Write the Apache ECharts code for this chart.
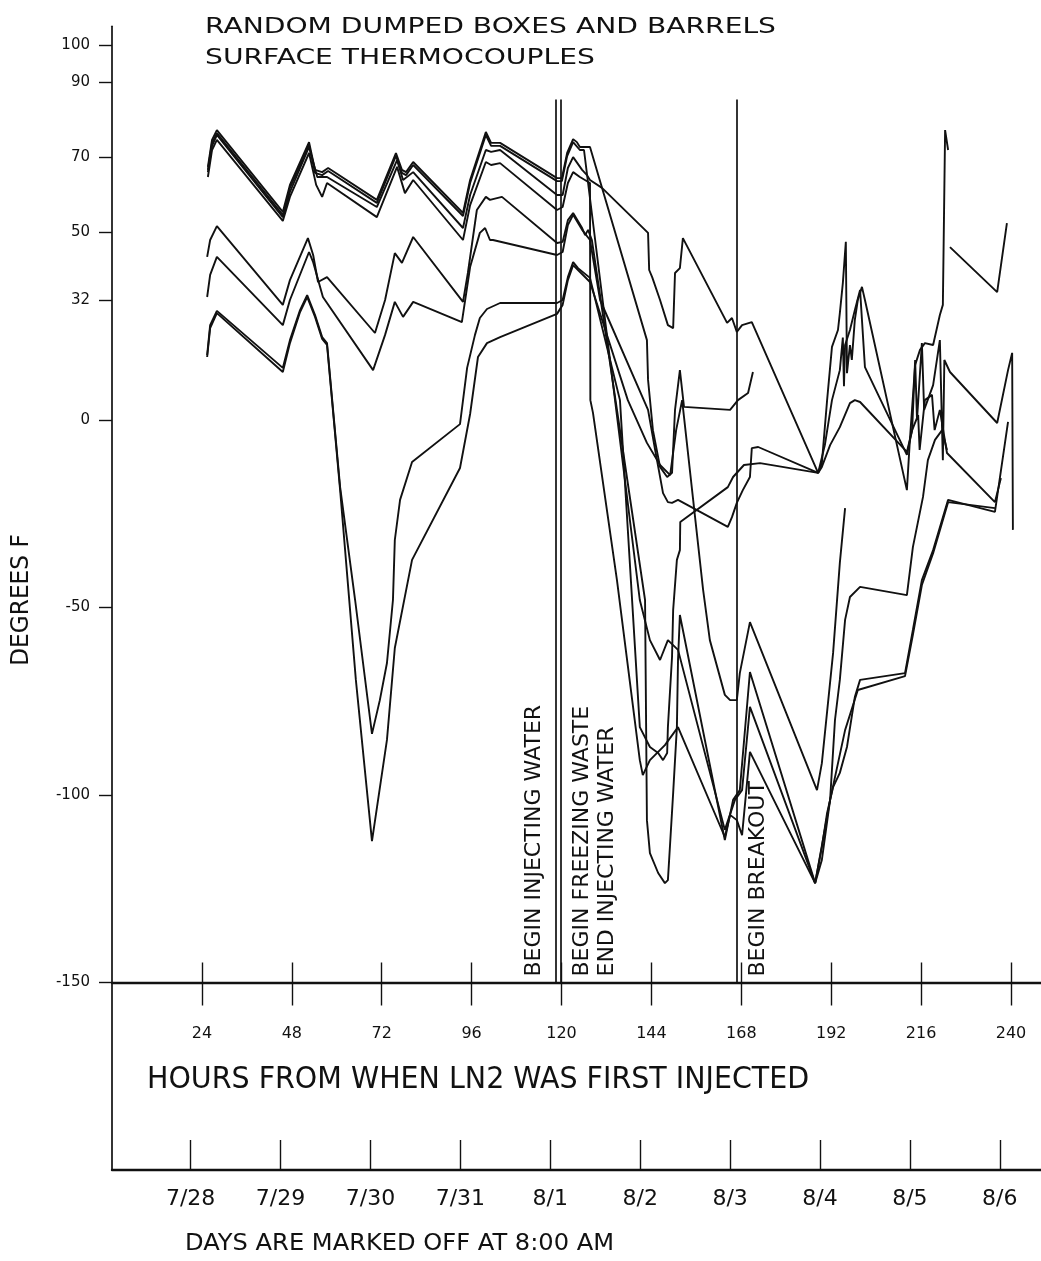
<!DOCTYPE html>
<html>
<head>
<meta charset="utf-8">
<script src="https://cdn.jsdelivr.net/npm/echarts@6/dist/echarts.min.js"></script>
<style>
html,body{margin:0;padding:0;background:#fff;}
#chart{width:1041px;height:1261px;}
</style>
</head>
<body>
<div id="chart"></div>
<script>
// ---- axis ticks / labels ----
var hourTicks = [24, 48, 72, 96, 120, 144, 168, 192, 216, 240];
var dayTickHours = [21, 45, 69, 93, 117, 141, 165, 189, 213, 237];
var dayLabels = ['7/28', '7/29', '7/30', '7/31', '8/1', '8/2', '8/3', '8/4', '8/5', '8/6'];
var yTickValues = [-150, -100, -50, 0, 32, 50, 70, 90, 100];

// ---- event markers (hours) ----
var eventHours = [118.5, 119.8, 166.9];
var eventLabels = ['BEGIN INJECTING WATER', 'BEGIN FREEZING WASTE\nEND INJECTING WATER', 'BEGIN BREAKOUT'];

// ---- thermocouple traces: [hours, degrees F] ----
var tcA = [[25.6,67.5],[26.7,74.7],[28.0,77.3],[45.6,55.5],[47.5,62.7],[52.6,74.1],[54.2,66.7],[56.1,66.1],[57.7,67.2],[70.7,58.7],[75.8,71.2],[77.4,66.7],[78.5,66.1],[80.4,68.8],[93.7,55.2],[95.6,64.0],[99.8,76.8],[101.2,73.9],[103.6,73.9],[118.8,64.5],[120.1,64.5],[121.5,71.2],[123.1,74.9],[124.1,74.1],[124.9,72.8],[127.6,72.8],[142.8,21.3],[143.1,10.7],[144.4,-2.7],[146.3,-12.5],[148.2,-15.2],[149.5,-14.1],[150.3,2.7],[151.6,13.3],[152.7,3.5],[165.0,2.7],[167.1,5.3],[169.8,7.2],[171.1,12.8],[197.0,null],[223.7,46.1],[236.3,34.1],[238.9,52.5]];
var tcB = [[25.6,66.1],[26.7,73.1],[28.0,76.0],[45.6,54.1],[47.5,60.8],[52.6,72.8],[54.8,64.8],[57.4,64.8],[70.7,56.8],[76.1,69.3],[77.7,64.0],[80.4,66.1],[93.7,51.2],[95.6,60.0],[99.8,72.0],[101.2,71.5],[103.6,72.0],[118.8,60.0],[120.3,60.0],[121.7,67.2],[123.1,70.1],[125.5,66.7],[126.8,65.3],[127.6,64.0],[130.8,61.9],[143.1,49.9],[143.4,40.0],[144.2,38.1],[146.3,32.0],[148.4,25.3],[149.8,24.5],[150.3,39.2],[151.6,40.5],[152.4,48.5],[164.2,25.9],[165.5,27.2],[166.8,23.5],[168.2,25.3],[170.8,26.1],[188.5,-14.1],[189.5,-11.5],[190.9,5.3],[192.2,19.5],[193.8,24.0],[194.3,28.5],[195.1,36.5],[195.9,47.5],[196.2,12.5],[197.0,20.0],[197.5,16.0],[198.3,26.7],[199.1,32.0],[200.2,35.5],[201.0,32.0],[212.2,-18.7],[213.0,-5.3],[214.4,14.7],[215.7,18.7],[217.0,20.5],[219.2,20.0],[221.0,28.0],[221.8,30.7],[222.4,77.3],[223.2,72.0]];
var tcC = [[25.6,64.8],[26.7,72.0],[28.0,74.7],[45.6,53.1],[47.5,59.5],[52.6,71.2],[54.5,62.7],[56.1,59.5],[57.4,63.2],[70.7,54.1],[76.1,67.5],[78.2,60.5],[80.4,64.0],[93.7,48.0],[95.6,57.3],[99.8,68.8],[101.2,68.0],[103.6,68.5],[118.8,56.0],[120.3,56.8],[121.7,63.2],[123.1,66.1],[124.9,64.8],[127.6,63.2],[127.7,5.3],[128.4,1.9],[134.8,-42.7],[140.9,-90.7],[141.7,-94.7],[143.6,-90.7],[147.6,-86.7],[151.1,-81.9],[163.6,-111.2],[165.0,-105.3],[166.8,-106.7],[168.2,-110.7],[170.3,-88.5],[187.7,-123.5],[189.5,-113.9],[190.9,-104.8],[192.5,-97.9],[194.3,-94.1],[196.2,-87.2],[198.3,-73.9],[199.7,-69.3],[211.7,-67.5],[213.8,-56.0],[216.2,-42.7],[219.2,-34.7],[223.2,-21.3],[235.7,-24.5],[239.2,-0.5]];
var tcD = [[25.4,43.5],[26.2,48.0],[28.0,51.7],[45.6,30.7],[47.5,37.3],[52.3,48.5],[53.7,44.0],[55.0,36.8],[57.4,38.1],[70.2,23.2],[72.9,32.0],[75.5,44.5],[77.4,41.9],[80.4,48.8],[93.7,31.5],[95.0,39.2],[97.4,56.0],[99.8,59.5],[100.9,58.7],[104.1,59.5],[118.8,47.2],[120.3,47.5],[121.7,53.3],[123.1,55.2],[125.5,51.2],[126.3,49.3],[127.1,50.7],[128.1,48.0],[142.3,-48.0],[142.8,-106.7],[143.6,-115.5],[145.8,-120.8],[147.6,-123.5],[148.4,-122.7],[149.0,-112.8],[149.8,-99.5],[150.8,-81.9],[151.1,-64.0],[151.6,-52.0],[163.6,-112.0],[165.8,-101.3],[167.6,-98.7],[170.3,-67.2],[187.7,-123.5],[189.5,-117.3],[191.7,-101.3],[193.0,-80.0],[194.3,-69.3],[195.7,-53.3],[197.0,-47.2],[199.7,-44.5],[212.2,-46.7],[213.8,-33.9],[216.5,-20.5],[217.8,-10.7],[219.7,-5.3],[221.6,-2.7],[222.9,-8.0]];
var tcE = [[25.4,32.8],[26.2,38.7],[28.0,43.5],[45.6,25.3],[47.5,32.0],[52.6,44.8],[53.7,42.1],[56.3,32.8],[69.7,13.3],[72.9,22.7],[75.5,31.5],[77.7,27.5],[80.4,31.5],[93.4,26.1],[95.6,40.8],[98.2,49.9],[99.6,51.2],[100.9,48.0],[101.7,48.0],[118.8,44.0],[120.3,44.8],[121.7,52.0],[123.1,54.7],[125.5,50.7],[127.6,48.0],[130.3,32.0],[143.1,2.7],[145.0,-8.0],[147.1,-19.5],[148.4,-21.9],[149.5,-22.1],[151.1,-21.3],[164.4,-28.5],[165.5,-25.9],[166.8,-22.1],[168.4,-18.7],[170.3,-15.2],[170.8,-7.5],[172.5,-7.2],[188.5,-14.1],[189.5,-12.5],[191.7,-6.7],[194.3,-1.9],[197.0,4.5],[198.3,5.3],[199.7,4.8],[212.2,-8.5],[213.6,-2.7],[214.4,16.0],[214.9,0.0],[216.2,20.5],[216.8,2.7],[219.2,9.3],[221.0,21.3],[221.8,-10.7],[222.2,16.0],[223.7,12.8],[236.3,-0.8],[239.2,13.3],[240.3,17.9],[240.5,-29.3]];
var tcF = [[25.4,17.3],[26.2,25.3],[28.0,29.1],[45.6,13.9],[47.5,21.3],[50.2,29.3],[52.1,33.3],[54.2,28.0],[56.1,22.1],[57.4,20.5],[60.9,-17.9],[64.9,-48.0],[69.4,-83.7],[71.5,-74.7],[73.4,-64.8],[75.0,-48.0],[75.5,-32.0],[76.9,-21.3],[80.1,-11.2],[92.9,-1.1],[94.8,13.9],[96.9,22.7],[98.2,27.2],[100.1,29.6],[103.6,31.2],[118.8,31.2],[120.3,32.0],[121.7,38.1],[123.1,42.1],[124.4,40.5],[127.6,37.9],[135.6,5.3],[140.9,-81.9],[143.6,-87.2],[145.8,-88.8],[147.1,-90.7],[148.2,-88.8],[148.4,-81.9],[149.5,-63.2],[149.8,-50.7],[150.8,-37.3],[151.6,-34.7],[151.7,-27.2],[164.4,-17.9],[165.8,-15.2],[168.7,-12.0],[173.0,-11.5],[188.5,-14.1],[190.3,-6.7],[192.2,5.3],[194.3,13.3],[195.1,22.0],[195.4,9.0],[195.7,20.0],[197.0,24.0],[198.3,29.3],[199.7,34.7],[201.0,14.1],[212.2,-9.3],[213.6,-2.7],[215.2,1.3],[215.6,-8.0],[217.0,5.3],[218.9,6.7],[219.6,-2.7],[221.0,2.7],[222.9,-8.8],[235.7,-21.9],[237.3,-15.5]];
var tcG = [[25.4,16.8],[26.2,24.5],[28.0,28.5],[45.6,12.8],[47.5,20.5],[50.2,28.8],[52.1,32.8],[54.2,27.5],[56.1,21.6],[57.4,20.0],[60.9,-18.7],[65.1,-69.3],[69.4,-112.3],[73.4,-85.3],[75.5,-60.8],[80.1,-37.3],[92.9,-12.8],[95.6,1.6],[97.7,16.8],[100.1,20.5],[103.6,22.1],[118.8,28.3],[120.3,30.7],[121.7,37.3],[123.1,41.3],[124.4,40.0],[127.6,36.8],[137.7,5.3],[142.8,-6.1],[146.3,-12.0],[149.0,-14.7],[150.6,-2.7],[152.2,5.3],[157.8,-45.3],[159.6,-58.7],[163.6,-73.3],[165.0,-74.7],[166.8,-74.7],[167.6,-67.5],[170.3,-53.9],[188.2,-98.7],[189.5,-91.5],[192.5,-62.1],[194.3,-38.1],[195.7,-23.5]];
var tcH = [[25.6,66.7],[26.7,73.9],[28.0,76.5],[45.6,54.7],[47.5,61.9],[52.6,73.3],[54.2,65.9],[56.1,65.3],[57.7,66.4],[70.7,57.9],[75.8,70.4],[77.4,65.9],[78.5,65.3],[80.4,68.0],[93.7,54.4],[95.6,63.2],[99.8,76.0],[101.2,73.1],[103.6,73.1],[118.8,63.7],[120.1,63.7],[121.5,70.4],[123.1,74.1],[124.9,72.0],[126.0,72.0],[140.9,-48.0],[143.6,-58.7],[146.3,-64.0],[148.4,-58.7],[151.1,-61.3],[163.6,-109.3],[166.3,-101.3],[168.2,-98.7],[170.3,-76.5],[187.7,-123.5],[191.7,-101.3],[195.7,-82.7],[199.1,-72.0],[211.7,-68.3],[213.8,-57.3],[216.2,-44.0],[219.2,-35.5],[223.2,-21.9],[235.7,-23.5]];

var traces = [tcA, tcB, tcC, tcD, tcE, tcF, tcG, tcH];
var traceNames = ['TC-A', 'TC-B', 'TC-C', 'TC-D', 'TC-E', 'TC-F', 'TC-G', 'TC-H'];

var INK = '#111';
var FONT = 'DejaVu Sans';

var eventSides = ['insideStartTop', 'insideStartBottom', 'insideStartBottom'];
var markData = eventHours.map(function (h, i) {
  var lab = { show: true, formatter: eventLabels[i], position: eventSides[i], distance: [6, 9],
    color: INK, fontFamily: FONT, fontSize: 22, lineHeight: 25 };
  return [{ coord: [h, -150], label: lab }, { coord: [h, 85.5], label: lab }];
});

var series = traces.map(function (d, i) {
  var s = {
    name: traceNames[i], type: 'line', xAxisIndex: 0, yAxisIndex: 0,
    data: d, showSymbol: false, symbol: 'none', connectNulls: false,
    lineStyle: { color: INK, width: 1.9 }, itemStyle: { color: INK },
    animation: false, silent: true
  };
  if (i === 0) {
    s.markLine = { symbol: 'none', silent: true, animation: false,
      lineStyle: { color: INK, width: 1.7, type: 'solid' }, data: markData };
  }
  return s;
});

var chart = echarts.init(document.getElementById('chart'), null, { renderer: 'canvas' });
chart.setOption({
  backgroundColor: '#fff',
  animation: false,
  grid: [
    { left: 112, right: 0, top: 26.25, bottom: 278.5 },
    { left: 112, right: 0, top: 26.25, bottom: 91 }
  ],
  xAxis: [
    { gridIndex: 0, type: 'value', min: 0, max: 248, position: 'bottom',
      axisLine: { show: true, onZero: false, lineStyle: { color: INK, width: 2.4 } },
      axisTick: { show: true, customValues: hourTicks, length: 23, lineStyle: { color: INK, width: 1.4 } },
      axisLabel: { show: true, customValues: hourTicks, margin: 43, color: INK, fontFamily: FONT, fontSize: 16 },
      splitLine: { show: false } },
    { gridIndex: 0, type: 'value', min: 0, max: 248, position: 'bottom',
      axisLine: { show: false, onZero: false },
      axisTick: { show: true, inside: true, customValues: hourTicks, length: 20, lineStyle: { color: INK, width: 1.4 } },
      axisLabel: { show: false }, splitLine: { show: false } },
    { gridIndex: 1, type: 'value', min: 0, max: 248, position: 'bottom',
      axisLine: { show: true, onZero: false, lineStyle: { color: INK, width: 2.4 } },
      axisTick: { show: true, inside: true, customValues: dayTickHours, length: 30, lineStyle: { color: INK, width: 1.4 } },
      axisLabel: { show: true, customValues: dayTickHours, margin: 18, color: INK, fontFamily: FONT, fontSize: 22,
        formatter: function (v) { var k = dayTickHours.indexOf(v); return k >= 0 ? dayLabels[k] : ''; } },
      splitLine: { show: false } }
  ],
  yAxis: [
    { gridIndex: 0, type: 'value', min: -150, max: 105,
      axisLine: { show: false, onZero: false },
      axisTick: { show: true, customValues: yTickValues, length: 13, lineStyle: { color: INK, width: 1.4 } },
      axisLabel: { show: true, customValues: yTickValues, margin: 22, color: INK, fontFamily: FONT, fontSize: 15 },
      splitLine: { show: false } },
    { gridIndex: 1, type: 'value', min: 0, max: 1,
      axisLine: { show: true, onZero: false, lineStyle: { color: INK, width: 1.7 } },
      axisTick: { show: false }, axisLabel: { show: false }, splitLine: { show: false } }
  ],
  graphic: [
    { type: 'text', x: 205, y: 27, scaleX: 1.28, silent: true,
      style: { text: 'RANDOM DUMPED BOXES AND BARRELS', fill: INK, font: '22px "DejaVu Sans"', textAlign: 'left', textVerticalAlign: 'middle' } },
    { type: 'text', x: 205, y: 58, scaleX: 1.28, silent: true,
      style: { text: 'SURFACE THERMOCOUPLES', fill: INK, font: '22px "DejaVu Sans"', textAlign: 'left', textVerticalAlign: 'middle' } },
    { type: 'text', x: 147, y: 1080, scaleX: 0.95, silent: true,
      style: { text: 'HOURS FROM WHEN LN2 WAS FIRST INJECTED', fill: INK, font: '30px "DejaVu Sans"', textAlign: 'left', textVerticalAlign: 'middle' } },
    { type: 'text', x: 185, y: 1244, scaleX: 1.05, silent: true,
      style: { text: 'DAYS ARE MARKED OFF AT 8:00 AM', fill: INK, font: '23px "DejaVu Sans"', textAlign: 'left', textVerticalAlign: 'middle' } },
    { type: 'text', x: 21, y: 600, rotation: Math.PI / 2, scaleX: 0.93, silent: true,
      style: { text: 'DEGREES F', fill: INK, font: '25px "DejaVu Sans"', textAlign: 'center', textVerticalAlign: 'middle' } }
  ],
  series: series
});
</script>
</body>
</html>
